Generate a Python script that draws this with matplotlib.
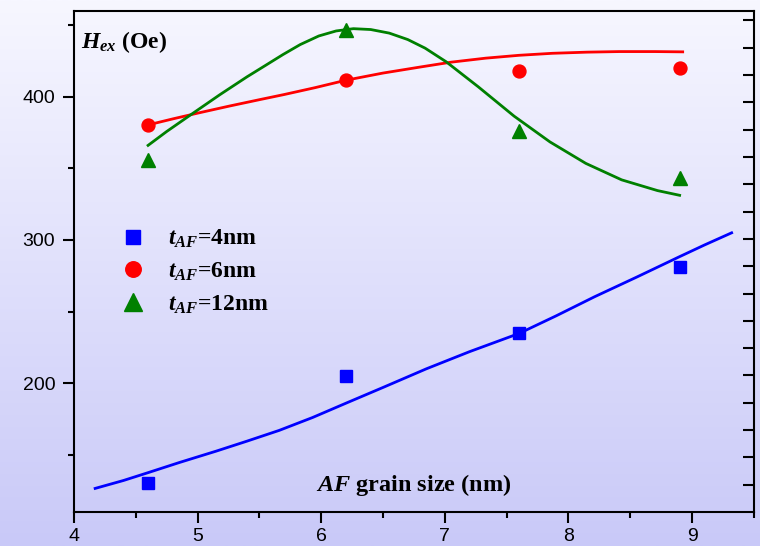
import numpy as np
import matplotlib.pyplot as plt
from matplotlib.colors import LinearSegmentedColormap

plt.rcParams['mathtext.fontset'] = 'custom'
plt.rcParams['mathtext.it'] = 'Liberation Serif:italic:bold'
plt.rcParams['mathtext.bf'] = 'Liberation Serif:bold'
plt.rcParams['mathtext.rm'] = 'Liberation Serif:bold'

# measured points
grain = [4.6, 6.2, 7.6, 8.9]
hex_4nm = [130, 205, 235, 281]
hex_6nm = [380, 412, 418, 420]
hex_12nm = [356, 447, 376, 343]

# fitted curves
fit4_x = [4.16, 4.4, 4.6, 4.85, 5.15, 5.4, 5.66, 5.93, 6.2, 6.5, 6.85, 7.2,
          7.6, 7.9, 8.21, 8.55, 8.89, 9.1, 9.33]
fit4_y = [126.2, 132.0, 137.5, 144.5, 152.5, 159.5, 167.0, 176.0, 186.0, 197.0, 210.0, 222.0,
          234.7, 247.0, 260.3, 274.0, 288.0, 296.5, 305.4]
fit6_x = [4.60, 4.8, 5.0, 5.26, 5.5, 5.7, 5.95, 6.20, 6.5, 6.80, 7.05, 7.33, 7.6,
          7.87, 8.15, 8.41, 8.7, 8.935]
fit6_y = [380.4, 384.6, 388.6, 393.6, 398.0, 401.6, 406.4, 411.6, 416.6, 420.8, 424.2, 427.0,
          429.0, 430.4, 431.2, 431.6, 431.6, 431.4]
fit12_x = [4.59, 4.75, 4.96, 5.18, 5.4, 5.55, 5.69, 5.83, 5.98, 6.12, 6.26, 6.4, 6.55,
           6.7, 6.84, 7.01, 7.27, 7.56, 7.85, 8.14, 8.43, 8.72, 8.91]
fit12_y = [365.5, 375.8, 388.4, 401.5, 414.0, 422.0, 429.5, 436.5, 442.5, 446.0, 447.6, 447.0,
           444.5, 440.0, 434.0, 424.5, 407.0, 386.5, 368.5, 353.5, 342.0, 334.5, 331.0]

fig = plt.figure(figsize=(7.6, 5.46), dpi=100)

# vertical lavender gradient behind everything
bg = fig.add_axes([0, 0, 1, 1], zorder=-10)
cmap = LinearSegmentedColormap.from_list('lav', ['#c9c9f8', '#f7f7ff'])
bg.imshow(np.linspace(0, 1, 256).reshape(-1, 1), aspect='auto', cmap=cmap,
          origin='lower', extent=[0, 1, 0, 1])
bg.axis('off')

ax = fig.add_axes([0.0974, 0.0623, 0.8946, 0.9177])
ax.patch.set_alpha(0)

ax.plot(fit4_x, fit4_y, color='#0000ff', lw=2.0, solid_capstyle='butt')
ax.plot(fit6_x, fit6_y, color='#ff0000', lw=2.0, solid_capstyle='butt')
ax.plot(fit12_x, fit12_y, color='#008000', lw=2.0, solid_capstyle='butt')

ax.plot(grain, hex_4nm, 's', color='#0000ff', ms=8, ls='none',
        label=r'$t_{AF}$=4nm')
ax.plot(grain, hex_6nm, 'o', color='#ff0000', ms=9.3, ls='none',
        label=r'$t_{AF}$=6nm')
ax.plot(grain, hex_12nm, '^', color='#008000', ms=10.6, ls='none',
        label=r'$t_{AF}$=12nm')

ax.set_xlim(4, 9.5)
ax.set_ylim(110, 460)
ax.set_xticks([4, 5, 6, 7, 8, 9])
ax.set_xticks(np.arange(4.5, 9.6, 1.0), minor=True)
ax.set_yticks([200, 300, 400])
ax.set_yticks([150, 250, 350, 450], minor=True)

for s in ax.spines.values():
    s.set_linewidth(1.5)
ax.tick_params(which='major', direction='out', length=8, width=1.5,
               labelsize=14, top=False, right=False)
ax.tick_params(which='minor', direction='out', length=4.5, width=1.5,
               top=False, right=False)
ax.tick_params(axis='x', pad=3.5)
ax.tick_params(axis='y', pad=5.5)
for lab in ax.get_xticklabels() + ax.get_yticklabels():
    lab.set_fontfamily('Liberation Sans')

# unlabelled ticks along the right spine
rax = ax.twinx()
rax.set_ylim(0, 18.35)
rax.set_yticks(np.arange(1, 19))
rax.tick_params(axis='y', direction='in', length=8, width=1.5, labelright=False)
for s in rax.spines.values():
    s.set_visible(False)

ax.text(0.0103, 0.926, r'$H_{ex}$ (Oe)', transform=ax.transAxes, va='baseline',
        fontsize=17, fontweight='bold', fontfamily='Liberation Serif')
ax.text(0.5, 0.042, r'$AF$ grain size (nm)', transform=ax.transAxes, va='baseline',
        fontsize=17.5, fontweight='bold', fontfamily='Liberation Serif', ha='center')

leg = ax.legend(loc='upper left', bbox_to_anchor=(0.066, 0.567), frameon=False,
                handletextpad=0.9, labelspacing=0.44, handlelength=1.2, markerscale=1.2,
                borderaxespad=0, borderpad=0,
                prop={'family': 'Liberation Serif', 'weight': 'bold', 'size': 17})

fig.savefig('out.png', dpi=100)
